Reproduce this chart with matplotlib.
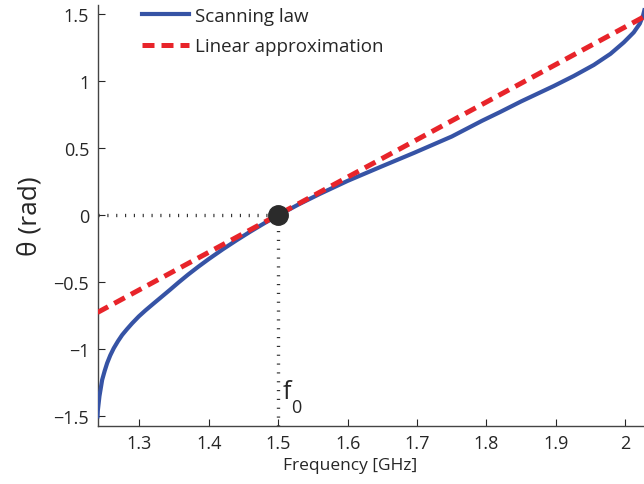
import numpy as np
import matplotlib.pyplot as plt

plt.rcParams['font.family'] = ['Open Sans', 'DejaVu Sans']

# scanning law (GHz, rad)
freq = [1.2396, 1.2400, 1.2413, 1.2424, 1.2440, 1.2463, 1.2500, 1.2535,
        1.2580, 1.2630, 1.2690, 1.2751, 1.2820, 1.2895, 1.2990, 1.3086,
        1.3200, 1.3327, 1.3440, 1.3566, 1.3700, 1.3850, 1.4000, 1.4200,
        1.4400, 1.4600, 1.4800, 1.5000, 1.5300, 1.5600, 1.6000, 1.6500,
        1.6957, 1.7500, 1.7935, 1.8194, 1.8500, 1.8971, 1.9259, 1.9547,
        1.9787, 1.9978, 2.0122, 2.0209, 2.0256, 2.0275]
theta = [-1.50, -1.46, -1.40, -1.35, -1.30, -1.228, -1.16, -1.103,
         -1.045, -0.992, -0.94, -0.893, -0.85, -0.806, -0.755, -0.71,
         -0.66, -0.605, -0.556, -0.50, -0.443, -0.383, -0.326, -0.254,
         -0.186, -0.121, -0.059, 0.0, 0.083, 0.160, 0.257, 0.367,
         0.466, 0.588, 0.705, 0.770, 0.850, 0.965, 1.040, 1.122,
         1.205, 1.290, 1.365, 1.430, 1.490, 1.530]

# linear approximation end points
lin_f = [1.2396, 2.03]
lin_t = [-0.725, 1.49]

f0 = 1.5
xticks = [1.3, 1.4, 1.5, 1.6, 1.7, 1.8, 1.9, 2.0]
xlabels = ['1.3', '1.4', '1.5', '1.6', '1.7', '1.8', '1.9', '2']
yticks = [-1.5, -1, -0.5, 0, 0.5, 1, 1.5]
ylabels = ['\u22121.5', '\u22121', '\u22120.5', '0', '0.5', '1', '1.5']

txt = '#262626'
fig = plt.figure(figsize=(6.44, 4.85), dpi=100)
ax = fig.add_axes([0.1514, 0.12, 0.8486, 0.868])

ax.plot(freq, theta, color='#3653a5', lw=3.0, label='Scanning law', zorder=3,
        solid_joinstyle='round')
ax.plot(lin_f, lin_t, color='#e8242a', lw=3.6, dashes=(2.4, 1.4),
        label='Linear approximation', zorder=4)

dots = (0, (0.35, 2.3))
ax.plot([1.2396, f0], [0, 0], color='#333333', lw=2.4, ls=dots,
        dash_capstyle='butt', zorder=2)
ax.plot([f0, f0], [-np.pi / 2, 0], color='#333333', lw=2.4, ls=dots,
        dash_capstyle='butt', zorder=2)
ax.plot([f0], [0], 'o', color='#2b2b2b', ms=14, zorder=5)
ax.text(1.507, -1.36, 'f', fontsize=18, color=txt)
ax.text(1.518, -1.47, '0', fontsize=13, color=txt)

ax.set_xlim(1.2396, 2.027)
ax.set_ylim(-np.pi / 2, np.pi / 2)
ax.set_xticks(xticks)
ax.set_xticklabels(xlabels)
ax.set_yticks(yticks)
ax.set_yticklabels(ylabels)
ax.tick_params(direction='in', length=5, width=0.8, colors=txt,
               labelsize=13, pad=6)
for s in ['top', 'right']:
    ax.spines[s].set_visible(False)
for s in ['left', 'bottom']:
    ax.spines[s].set_color('#444444')
    ax.spines[s].set_linewidth(1.0)

ax.set_xlabel('Frequency [GHz]', fontsize=12.5, color=txt)
ax.xaxis.set_label_coords(0.462, -0.075)
ax.set_ylabel('\u03b8 (rad)', fontsize=19, color=txt)
ax.yaxis.set_label_coords(-0.10, 0.5)

ax.legend(loc='upper left', bbox_to_anchor=(0.05, 1.035), frameon=False,
          fontsize=13.5, handlelength=2.5, handletextpad=0.35,
          labelspacing=0.65, labelcolor=txt)

fig.savefig('out.png', dpi=100)
